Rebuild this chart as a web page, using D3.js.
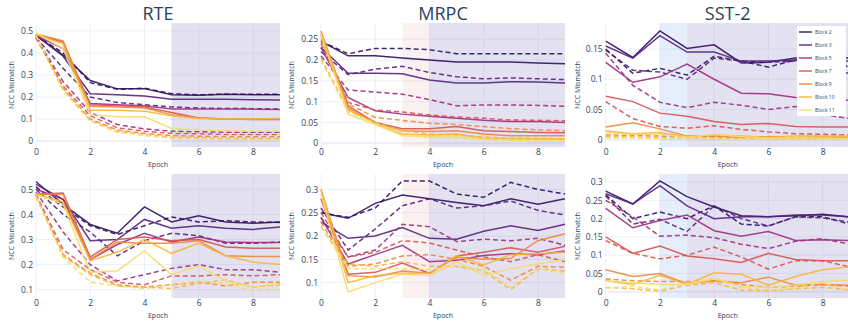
<!DOCTYPE html>
<html>
<head>
<meta charset="utf-8">
<script src="https://cdn.jsdelivr.net/npm/d3@7"></script>
<style>
body { margin: 0; background: #fff; }
svg text { font-family: "Open Sans", sans-serif; fill: #2a3f5f; }
</style>
</head>
<body>
<div id="chart"></div>
<script>
// categories
var epochs = [0, 1, 2, 3, 4, 5, 6, 7, 8, 9];
var blocks = ["Block 2", "Block 3", "Block 5", "Block 7", "Block 9", "Block 10", "Block 11"];
var tasks = ["RTE", "MRPC", "SST-2"];
var xTicks = [0, 2, 4, 6, 8];

// shaded epoch spans per task [from, to, kind]
var rteSpans = [[5, 9, "late"]];
var mrpcSpans = [[3, 4, "warm"], [4, 9, "late"]];
var sstSpans = [[2, 3, "cool"], [3, 9, "late"]];

// tick labels
var rteTopTicks = [0, 0.1, 0.2, 0.3, 0.4, 0.5];
var mrpcTopTicks = [0, 0.05, 0.1, 0.15, 0.2, 0.25];
var sstTopTicks = [0, 0.05, 0.1, 0.15];
var rteBotTicks = [0.1, 0.2, 0.3, 0.4, 0.5];
var mrpcBotTicks = [0.1, 0.15, 0.2, 0.25, 0.3];
var sstBotTicks = [0, 0.05, 0.1, 0.15, 0.2, 0.25, 0.3];

// series values, one row per block (solid / dashed)
var rteTopSolid = [
  [0.48, 0.39, 0.275, 0.237, 0.238, 0.21, 0.208, 0.212, 0.21, 0.21],
  [0.48, 0.385, 0.215, 0.21, 0.205, 0.19, 0.19, 0.19, 0.188, 0.186],
  [0.48, 0.42, 0.17, 0.165, 0.16, 0.145, 0.145, 0.145, 0.145, 0.143],
  [0.485, 0.45, 0.165, 0.16, 0.155, 0.13, 0.105, 0.1, 0.098, 0.098],
  [0.485, 0.455, 0.158, 0.155, 0.15, 0.12, 0.105, 0.1, 0.1, 0.1],
  [0.485, 0.44, 0.14, 0.14, 0.135, 0.115, 0.102, 0.1, 0.1, 0.102],
  [0.49, 0.42, 0.12, 0.11, 0.11, 0.057, 0.05, 0.047, 0.045, 0.045]
];
var rteTopDashed = [
  [0.48, 0.4, 0.265, 0.235, 0.24, 0.215, 0.21, 0.213, 0.212, 0.212],
  [0.47, 0.33, 0.2, 0.175, 0.165, 0.155, 0.15, 0.148, 0.147, 0.145],
  [0.47, 0.27, 0.13, 0.075, 0.055, 0.045, 0.042, 0.04, 0.04, 0.04],
  [0.47, 0.25, 0.115, 0.06, 0.045, 0.035, 0.033, 0.03, 0.03, 0.03],
  [0.47, 0.24, 0.1, 0.05, 0.035, 0.025, 0.022, 0.02, 0.02, 0.02],
  [0.48, 0.235, 0.095, 0.045, 0.03, 0.018, 0.015, 0.012, 0.012, 0.012],
  [0.48, 0.23, 0.09, 0.04, 0.025, 0.012, 0.01, 0.008, 0.006, 0.005]
];
var mrpcTopSolid = [
  [0.245, 0.21, 0.21, 0.205, 0.2, 0.195, 0.195, 0.195, 0.193, 0.191],
  [0.23, 0.168, 0.168, 0.167, 0.152, 0.145, 0.145, 0.148, 0.147, 0.145],
  [0.23, 0.11, 0.078, 0.07, 0.065, 0.06, 0.055, 0.052, 0.052, 0.05],
  [0.26, 0.09, 0.05, 0.035, 0.035, 0.04, 0.03, 0.028, 0.026, 0.025],
  [0.27, 0.085, 0.05, 0.03, 0.028, 0.03, 0.022, 0.018, 0.018, 0.018],
  [0.265, 0.08, 0.048, 0.022, 0.02, 0.022, 0.012, 0.01, 0.01, 0.01],
  [0.26, 0.07, 0.045, 0.018, 0.015, 0.015, 0.01, 0.008, 0.006, 0.005]
];
var mrpcTopDashed = [
  [0.245, 0.215, 0.228, 0.228, 0.225, 0.215, 0.215, 0.215, 0.215, 0.215],
  [0.22, 0.165, 0.178, 0.185, 0.17, 0.16, 0.155, 0.157, 0.155, 0.153],
  [0.21, 0.128, 0.123, 0.118, 0.105, 0.09, 0.092, 0.092, 0.091, 0.089],
  [0.24, 0.098, 0.08, 0.075, 0.068, 0.063, 0.06, 0.056, 0.055, 0.054],
  [0.25, 0.095, 0.062, 0.055, 0.048, 0.045, 0.04, 0.035, 0.032, 0.03],
  [0.205, 0.08, 0.05, 0.03, 0.022, 0.02, 0.015, 0.012, 0.012, 0.01],
  [0.2, 0.075, 0.048, 0.025, 0.015, 0.012, 0.008, 0.007, 0.005, 0.004]
];
var sstTopSolid = [
  [0.163, 0.136, 0.18, 0.151, 0.157, 0.127, 0.128, 0.135, 0.136, 0.135],
  [0.155, 0.135, 0.172, 0.145, 0.145, 0.13, 0.13, 0.132, 0.131, 0.13],
  [0.128, 0.095, 0.104, 0.125, 0.1, 0.077, 0.076, 0.07, 0.068, 0.065],
  [0.072, 0.063, 0.044, 0.039, 0.03, 0.025, 0.027, 0.022, 0.021, 0.021],
  [0.021, 0.028, 0.018, 0.006, 0.006, 0.004, 0.005, 0.004, 0.004, 0.004],
  [0.015, 0.01, 0.012, 0.005, 0.008, 0.006, 0.004, 0.006, 0.006, 0.006],
  [0.012, 0.009, 0.009, 0.004, 0.009, 0.005, 0.003, 0.004, 0.003, 0.002]
];
var sstTopDashed = [
  [0.15, 0.11, 0.118, 0.107, 0.138, 0.13, 0.12, 0.132, 0.132, 0.12],
  [0.148, 0.115, 0.112, 0.1, 0.135, 0.13, 0.128, 0.13, 0.115, 0.11],
  [0.143, 0.09, 0.062, 0.053, 0.062, 0.057, 0.05, 0.055, 0.042, 0.035],
  [0.063, 0.035, 0.022, 0.019, 0.023, 0.017, 0.013, 0.01, 0.009, 0.008],
  [0.008, 0.007, 0.006, 0.005, 0.005, 0.003, 0.004, 0.002, 0.002, 0.002],
  [0.005, 0.005, 0.003, 0.003, 0.002, 0.002, 0.002, 0.001, 0.002, 0.002],
  [0.003, 0.003, 0.002, 0.002, 0.001, 0.001, 0.001, 0.001, 0.001, 0.001]
];
var rteBotSolid = [
  [0.53, 0.44, 0.36, 0.325, 0.43, 0.37, 0.395, 0.37, 0.365, 0.37],
  [0.52, 0.46, 0.295, 0.3, 0.38, 0.345, 0.355, 0.345, 0.34, 0.35],
  [0.5, 0.46, 0.22, 0.28, 0.325, 0.29, 0.31, 0.29, 0.288, 0.288],
  [0.48, 0.485, 0.23, 0.3, 0.31, 0.295, 0.3, 0.27, 0.265, 0.265],
  [0.48, 0.48, 0.22, 0.29, 0.285, 0.285, 0.295, 0.235, 0.232, 0.232],
  [0.48, 0.45, 0.215, 0.25, 0.3, 0.245, 0.285, 0.235, 0.21, 0.2],
  [0.48, 0.44, 0.17, 0.175, 0.255, 0.16, 0.195, 0.135, 0.11, 0.125]
];
var rteBotDashed = [
  [0.51, 0.43, 0.355, 0.32, 0.355, 0.39, 0.37, 0.375, 0.37, 0.368],
  [0.5, 0.4, 0.33, 0.235, 0.295, 0.325, 0.315, 0.285, 0.285, 0.29],
  [0.49, 0.33, 0.2, 0.135, 0.16, 0.185, 0.2, 0.18, 0.18, 0.17],
  [0.48, 0.26, 0.18, 0.13, 0.12, 0.155, 0.155, 0.16, 0.155, 0.16],
  [0.48, 0.24, 0.165, 0.12, 0.11, 0.12, 0.13, 0.115, 0.13, 0.13],
  [0.47, 0.235, 0.16, 0.115, 0.11, 0.105, 0.125, 0.14, 0.11, 0.12],
  [0.47, 0.23, 0.13, 0.115, 0.105, 0.12, 0.13, 0.125, 0.095, 0.1]
];
var mrpcBotSolid = [
  [0.25, 0.238, 0.27, 0.288, 0.28, 0.272, 0.265, 0.28, 0.268, 0.28],
  [0.23, 0.195, 0.2, 0.218, 0.195, 0.193, 0.21, 0.222, 0.212, 0.225],
  [0.24, 0.14, 0.16, 0.18, 0.145, 0.148, 0.158, 0.162, 0.16, 0.168],
  [0.28, 0.118, 0.122, 0.142, 0.12, 0.157, 0.165, 0.175, 0.165, 0.178],
  [0.3, 0.115, 0.112, 0.125, 0.12, 0.155, 0.15, 0.152, 0.19, 0.205],
  [0.3, 0.1, 0.115, 0.12, 0.12, 0.158, 0.138, 0.16, 0.162, 0.165],
  [0.29, 0.08, 0.1, 0.118, 0.115, 0.145, 0.115, 0.13, 0.14, 0.15]
];
var mrpcBotDashed = [
  [0.25, 0.24, 0.26, 0.318, 0.318, 0.29, 0.283, 0.315, 0.3, 0.29],
  [0.26, 0.17, 0.215, 0.265, 0.28, 0.26, 0.265, 0.275, 0.255, 0.245],
  [0.24, 0.155, 0.17, 0.225, 0.22, 0.188, 0.193, 0.19, 0.195, 0.18],
  [0.25, 0.155, 0.165, 0.19, 0.185, 0.17, 0.155, 0.145, 0.16, 0.145],
  [0.23, 0.135, 0.14, 0.157, 0.16, 0.15, 0.135, 0.105, 0.135, 0.133],
  [0.22, 0.14, 0.135, 0.145, 0.135, 0.135, 0.125, 0.085, 0.13, 0.125],
  [0.22, 0.13, 0.13, 0.13, 0.128, 0.135, 0.13, 0.09, 0.13, 0.12]
];
var sstBotSolid = [
  [0.275, 0.24, 0.303, 0.26, 0.232, 0.208, 0.205, 0.208, 0.212, 0.205],
  [0.268, 0.24, 0.29, 0.235, 0.2, 0.205, 0.205, 0.21, 0.21, 0.205],
  [0.228, 0.175, 0.195, 0.21, 0.167, 0.152, 0.165, 0.14, 0.142, 0.14],
  [0.15, 0.105, 0.125, 0.098, 0.09, 0.08, 0.105, 0.088, 0.085, 0.085],
  [0.06, 0.042, 0.05, 0.022, 0.03, 0.025, 0.04, 0.018, 0.02, 0.018],
  [0.03, 0.02, 0.045, 0.02, 0.052, 0.048, 0.018, 0.042, 0.06, 0.068],
  [0.03, 0.025, 0.02, 0.02, 0.035, 0.015, 0.012, 0.018, 0.028, 0.032]
];
var sstBotDashed = [
  [0.265, 0.2, 0.218, 0.2, 0.235, 0.185, 0.18, 0.205, 0.205, 0.185],
  [0.262, 0.185, 0.198, 0.165, 0.235, 0.2, 0.18, 0.205, 0.202, 0.19],
  [0.25, 0.205, 0.152, 0.155, 0.148, 0.13, 0.118, 0.138, 0.145, 0.13],
  [0.14, 0.105, 0.09, 0.1, 0.122, 0.095, 0.062, 0.085, 0.085, 0.068],
  [0.035, 0.03, 0.028, 0.028, 0.03, 0.02, 0.012, 0.015, 0.02, 0.015],
  [0.012, 0.008, 0.002, 0.018, 0.025, 0.005, 0.003, 0.008, 0.012, 0.005],
  [0.01, 0.015, 0.005, 0.022, 0.038, 0.012, 0.005, 0.01, 0.025, 0.002]
];

// styles
var blockColors = ["#2c115f", "#55217e", "#9c2e7f", "#d6524f", "#f0863a", "#f7b538", "#f5da6a"];
var spanColors = {late: "rgba(72,60,160,0.15)", warm: "rgba(230,120,120,0.1)", cool: "rgba(90,140,230,0.15)"};
var gridColor = "#ebf0f8";

// layout
var colX = [36, 321, 605.7], plotW = 244;
var rowY = [23, 174], plotH = 124;
var yTitleX = [12, 292, 578];

var panels = [
  {task: 0, row: 0, col: 0, solid: rteTopSolid, dashed: rteTopDashed, ticks: rteTopTicks, dom: [-0.027, 0.536], spans: rteSpans},
  {task: 1, row: 0, col: 1, solid: mrpcTopSolid, dashed: mrpcTopDashed, ticks: mrpcTopTicks, dom: [-0.009, 0.289], spans: mrpcSpans},
  {task: 2, row: 0, col: 2, solid: sstTopSolid, dashed: sstTopDashed, ticks: sstTopTicks, dom: [-0.012, 0.193], spans: sstSpans},
  {task: 0, row: 1, col: 0, solid: rteBotSolid, dashed: rteBotDashed, ticks: rteBotTicks, dom: [0.067, 0.561], spans: rteSpans},
  {task: 1, row: 1, col: 1, solid: mrpcBotSolid, dashed: mrpcBotDashed, ticks: mrpcBotTicks, dom: [0.067, 0.333], spans: mrpcSpans},
  {task: 2, row: 1, col: 2, solid: sstBotSolid, dashed: sstBotDashed, ticks: sstBotTicks, dom: [-0.017, 0.322], spans: sstSpans}
];

var svg = d3.select("#chart")
  .append("svg")
  .attr("width", 848)
  .attr("height", 321);

panels.forEach(function(p, k) {
  var x = d3.scaleLinear().domain([0, 9]).range([0, plotW]);
  var y = d3.scaleLinear().domain(p.dom).range([plotH, 0]);

  var g = svg.append("g")
    .attr("transform", "translate(" + colX[p.col] + "," + rowY[p.row] + ")");

  g.append("clipPath").attr("id", "clip" + k)
    .append("rect").attr("x", -1).attr("y", -1).attr("width", plotW + 2).attr("height", plotH + 2);

  // grid
  g.selectAll(".vg").data(xTicks).enter().append("line")
    .attr("x1", function(d) { return x(d); }).attr("x2", function(d) { return x(d); })
    .attr("y1", 0).attr("y2", plotH)
    .attr("stroke", gridColor).attr("stroke-width", 1);
  g.selectAll(".hg").data(p.ticks).enter().append("line")
    .attr("x1", 0).attr("x2", plotW)
    .attr("y1", function(d) { return y(d); }).attr("y2", function(d) { return y(d); })
    .attr("stroke", gridColor).attr("stroke-width", function(d) { return d === 0 ? 2 : 1; });

  // shaded spans
  g.selectAll(".span").data(p.spans).enter().append("rect")
    .attr("x", function(d) { return x(d[0]); })
    .attr("width", function(d) { return x(d[1]) - x(d[0]); })
    .attr("y", 0).attr("height", plotH)
    .attr("fill", function(d) { return spanColors[d[2]]; });

  // lines
  var line = d3.line()
    .x(function(d, i) { return x(epochs[i]); })
    .y(function(d) { return y(d); });
  var lines = g.append("g").attr("clip-path", "url(#clip" + k + ")");
  p.solid.forEach(function(s, i) {
    lines.append("path").datum(p.dashed[i])
      .attr("d", line).attr("fill", "none")
      .attr("stroke", blockColors[i]).attr("stroke-width", 1.5)
      .attr("stroke-dasharray", "5,3").attr("opacity", 0.9);
    lines.append("path").datum(s)
      .attr("d", line).attr("fill", "none")
      .attr("stroke", blockColors[i]).attr("stroke-width", 1.5).attr("opacity", 0.9);
  });

  // axes
  var xa = g.append("g").attr("transform", "translate(0," + plotH + ")")
    .call(d3.axisBottom(x).tickValues(xTicks).tickSize(0).tickPadding(2));
  xa.select(".domain").remove();
  xa.selectAll("text").style("font-size", "8.5px").attr("fill", "#2a3f5f");

  var ya = g.append("g")
    .call(d3.axisLeft(y).tickValues(p.ticks).tickSize(0).tickPadding(3).tickFormat(d3.format("~g")));
  ya.select(".domain").remove();
  ya.selectAll("text").style("font-size", "8.5px").attr("fill", "#2a3f5f");

  g.append("text")
    .attr("x", plotW / 2).attr("y", plotH + 20)
    .attr("text-anchor", "middle").style("font-size", "7px")
    .text("Epoch");

  svg.append("text")
    .attr("transform", "translate(" + yTitleX[p.col] + "," + (rowY[p.row] + plotH / 2) + ")rotate(-90)")
    .attr("text-anchor", "middle").attr("dy", "0.35em").style("font-size", "7px")
    .text("NCC Mismatch");

  if (p.row === 0) {
    g.append("text")
      .attr("x", plotW / 2).attr("y", -3)
      .attr("text-anchor", "middle").style("font-size", "18px")
      .text(tasks[p.task]);
  }
});

// legend
var leg = svg.append("g").attr("transform", "translate(797,26)");
leg.append("rect").attr("width", 49).attr("height", 90).attr("fill", "#fff");
var items = leg.selectAll(".li").data(blocks).enter().append("g")
  .attr("transform", function(d, i) { return "translate(0," + (6 + i * 13) + ")"; });
items.append("line").attr("x1", 2).attr("x2", 15)
  .attr("stroke", function(d, i) { return blockColors[i]; }).attr("stroke-width", 1.5).attr("opacity", 0.9);
items.append("text").attr("x", 18).attr("dy", "0.35em").style("font-size", "5px")
  .text(function(d) { return d; });
</script>
</body>
</html>
